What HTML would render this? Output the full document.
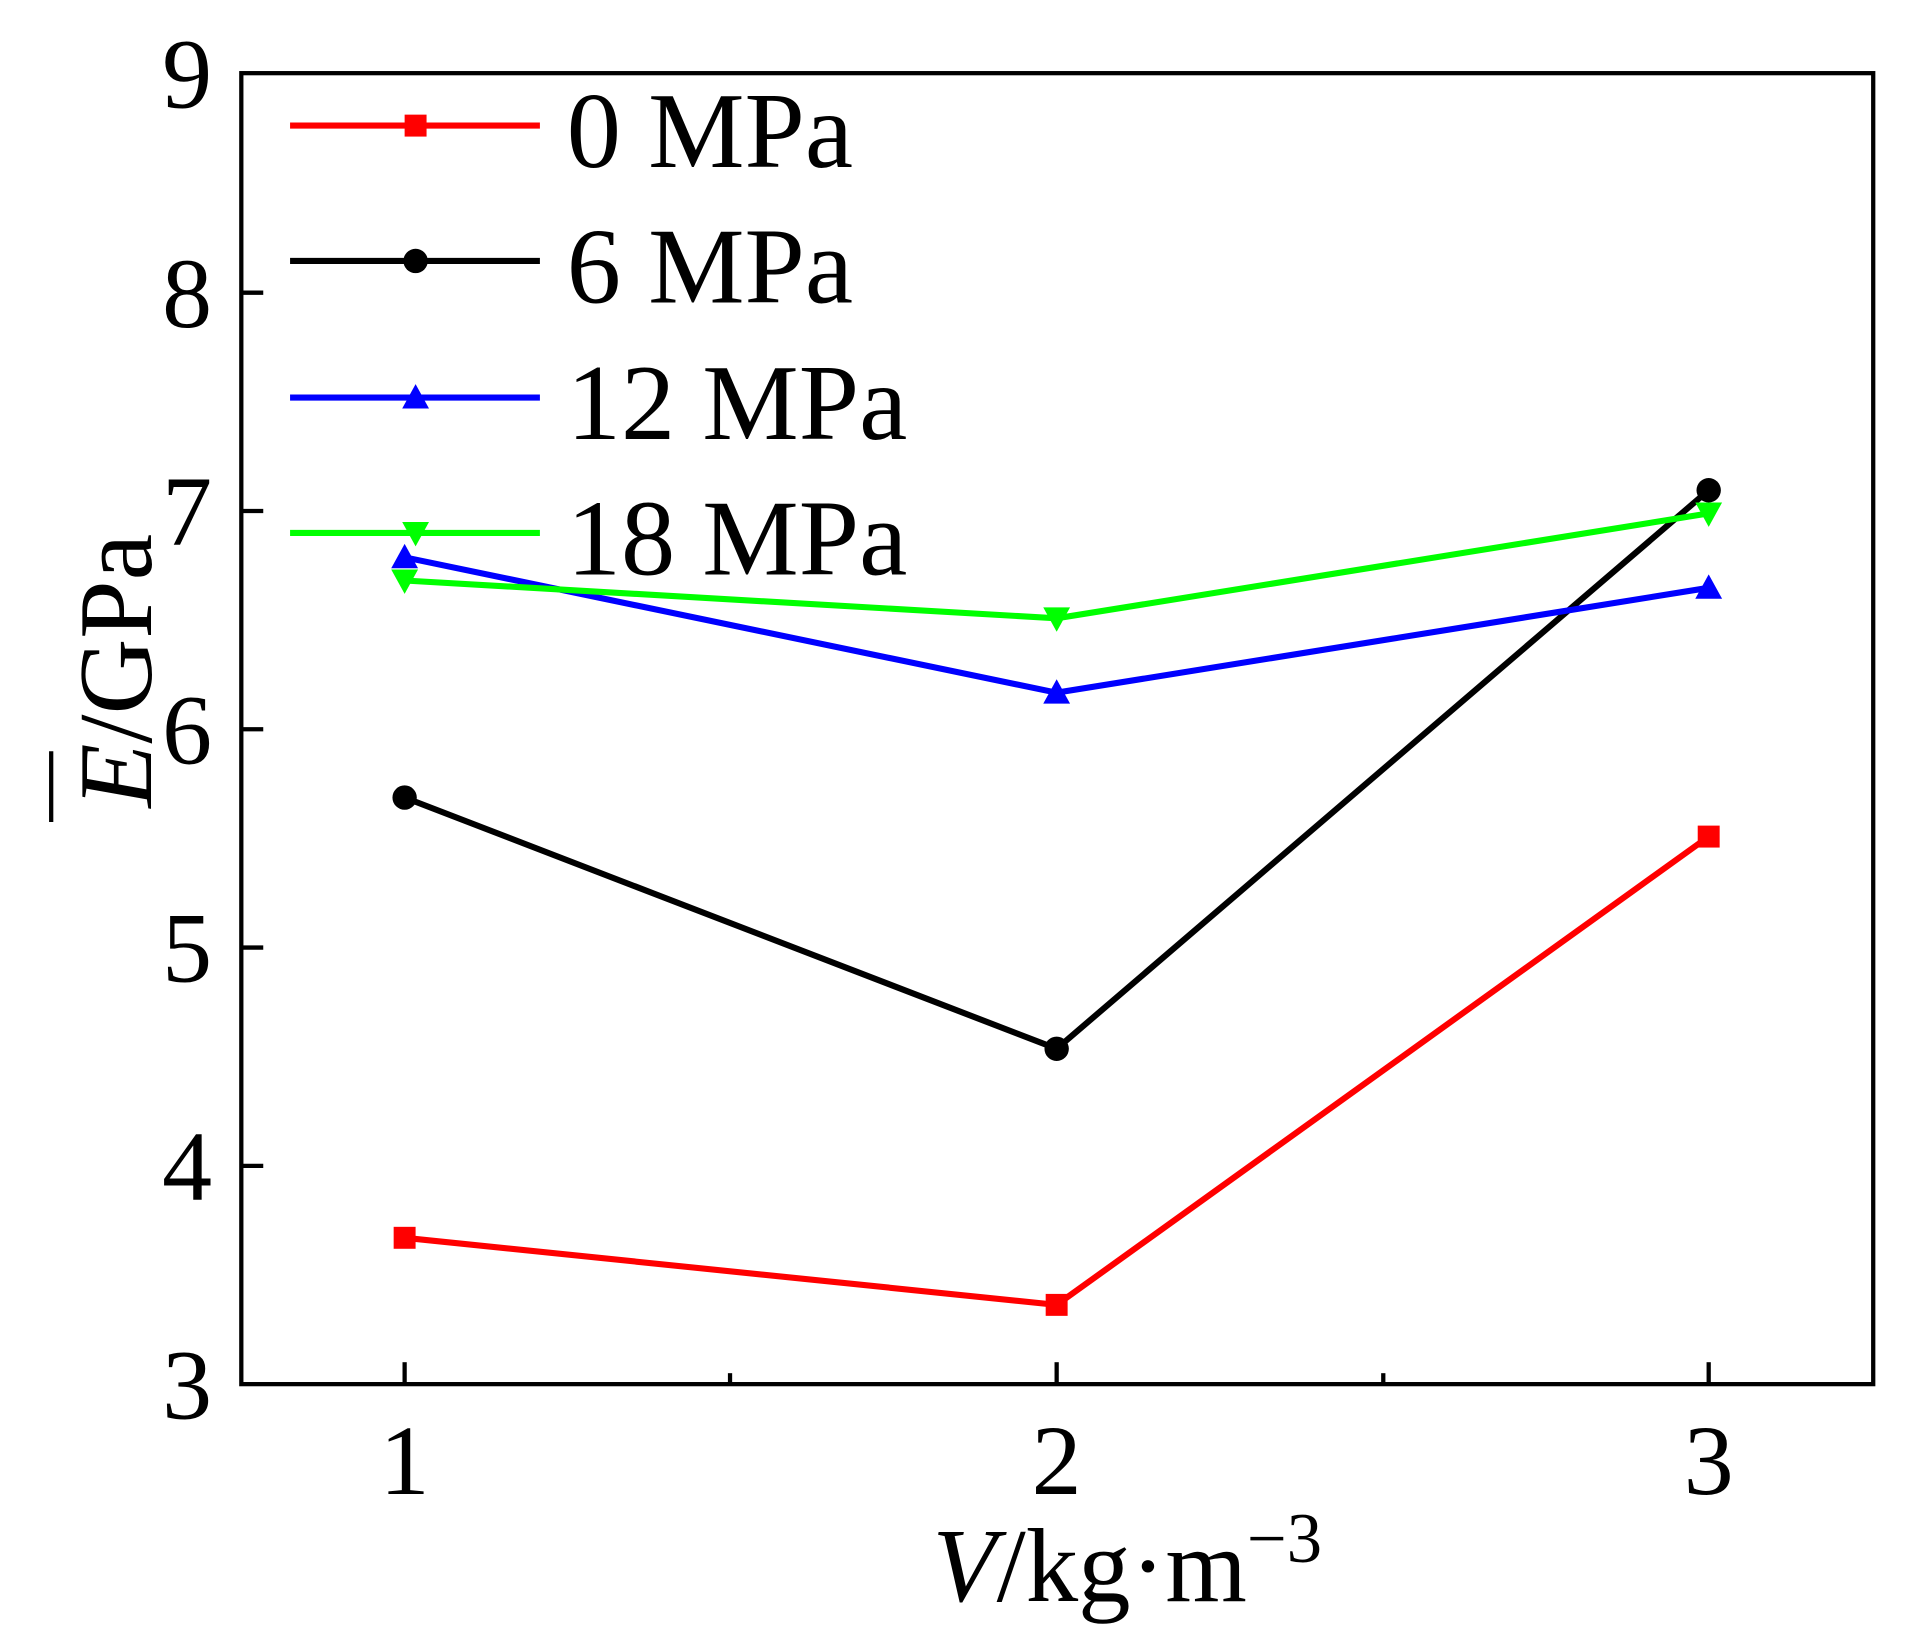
<!DOCTYPE html>
<html><head><style>html,body{margin:0;padding:0;background:#fff}svg{display:block}</style></head><body>
<svg width="1911" height="1650" viewBox="0 0 1568 1353" preserveAspectRatio="none" xmlns="http://www.w3.org/2000/svg" font-family="Liberation Serif, serif">
<rect x="198" y="60" width="1339" height="1075" fill="none" stroke="#000" stroke-width="3.5"/>
<g stroke="#000" stroke-width="3.5">
<line x1="198" y1="240" x2="216" y2="240"/><line x1="198" y1="419" x2="216" y2="419"/><line x1="198" y1="598" x2="216" y2="598"/><line x1="198" y1="777" x2="216" y2="777"/><line x1="198" y1="956" x2="216" y2="956"/>
<line x1="332" y1="1135" x2="332" y2="1117"/><line x1="867" y1="1135" x2="867" y2="1117"/><line x1="1402" y1="1135" x2="1402" y2="1117"/>
<line x1="599" y1="1135" x2="599" y2="1126"/><line x1="1135" y1="1135" x2="1135" y2="1126"/>
</g>
<g font-size="82" text-anchor="end">
<text x="174" y="88">9</text><text x="174" y="268">8</text><text x="174" y="447">7</text><text x="174" y="626">6</text><text x="174" y="805">5</text><text x="174" y="984">4</text><text x="174" y="1163">3</text>
</g>
<g font-size="82" text-anchor="middle">
<text x="332" y="1225">1</text><text x="867" y="1225">2</text><text x="1402" y="1225">3</text>
</g>
<text x="925" y="1313" font-size="86" text-anchor="middle"><tspan font-style="italic">V</tspan>/kg·m<tspan font-size="58" dy="-32">−3</tspan></text>
<g transform="translate(124,550) rotate(-90)">
<text x="0" y="0" font-size="86" text-anchor="middle"><tspan font-style="italic">E</tspan>/GPa</text>
<line x1="-124" y1="-82" x2="-66" y2="-82" stroke="#000" stroke-width="3.5"/>
</g>
<g fill="none" stroke-width="5">
<polyline points="332,1015 867,1070 1402,686" stroke="#f00"/>
<polyline points="332,654 867,860 1402,402" stroke="#000"/>
<polyline points="332,457 867,568 1402,482" stroke="#00f"/>
<polyline points="332,476 867,507 1402,421" stroke="#0f0"/>
</g>
<g fill="#f00"><rect x="323" y="1006" width="18" height="18"/><rect x="858" y="1061" width="18" height="18"/><rect x="1393" y="677" width="18" height="18"/></g>
<g fill="#000"><circle cx="332" cy="654" r="10"/><circle cx="867" cy="860" r="10"/><circle cx="1402" cy="402" r="10"/></g>
<g fill="#00f"><polygon points="332,446 343,466 321,466"/><polygon points="867,557 878,577 856,577"/><polygon points="1402,471 1413,491 1391,491"/></g>
<g fill="#0f0"><polygon points="332,487 343,467 321,467"/><polygon points="867,518 878,498 856,498"/><polygon points="1402,432 1413,412 1391,412"/></g>
<g stroke-width="5">
<line x1="238" y1="103" x2="443" y2="103" stroke="#f00"/><rect x="332" y="94" width="18" height="18" fill="#f00"/>
<line x1="238" y1="214" x2="443" y2="214" stroke="#000"/><circle cx="341" cy="214" r="10" fill="#000"/>
<line x1="238" y1="326" x2="443" y2="326" stroke="#00f"/><polygon points="341,315 352,335 330,335" fill="#00f"/>
<line x1="238" y1="437" x2="443" y2="437" stroke="#0f0"/><polygon points="341,448 352,428 330,428" fill="#0f0"/>
</g>
<g font-size="89">
<text x="465" y="137">0 MPa</text><text x="465" y="248">6 MPa</text><text x="465" y="360">12 MPa</text><text x="465" y="471">18 MPa</text>
</g>
</svg>
</body></html>
